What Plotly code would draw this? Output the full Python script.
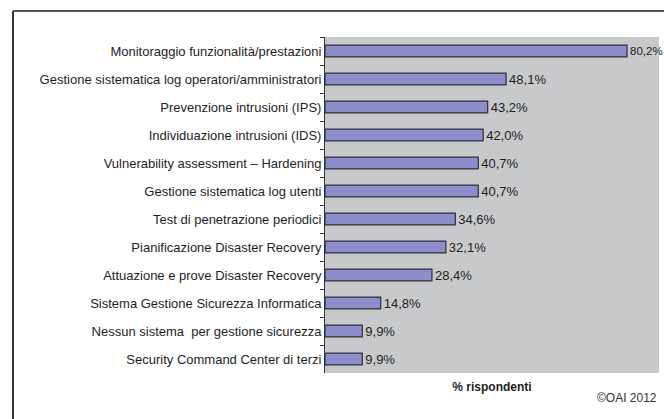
import plotly.graph_objects as go

categories = [
    "Monitoraggio funzionalità/prestazioni",
    "Gestione sistematica log operatori/amministratori",
    "Prevenzione intrusioni (IPS)",
    "Individuazione intrusioni (IDS)",
    "Vulnerability assessment – Hardening",
    "Gestione sistematica log utenti",
    "Test di penetrazione periodici",
    "Pianificazione Disaster Recovery",
    "Attuazione e prove Disaster Recovery",
    "Sistema Gestione Sicurezza Informatica",
    "Nessun sistema  per gestione sicurezza",
    "Security Command Center di terzi",
]
values = [80.2, 48.1, 43.2, 42.0, 40.7, 40.7, 34.6, 32.1, 28.4, 14.8, 9.9, 9.9]
value_labels = [f"{v:.1f}".replace(".", ",") + "%" for v in values]
# the longest bar's label sits at the right edge, so it is set a touch smaller
label_sizes = [11.5] + [13] * (len(values) - 1)

FONT = "Liberation Sans, Arial, sans-serif"
LEFT, RIGHT, TOP, BOTTOM = 325, 5, 37, 46
PLOT_W = 664 - LEFT - RIGHT
PLOT_H = 419 - TOP - BOTTOM

fig = go.Figure(
    go.Bar(
        x=values,
        y=categories,
        orientation="h",
        marker=dict(color="#8e8dcc", line=dict(color="#2e2e3a", width=1.2)),
        text=value_labels,
        textposition="outside",
        constraintext="none",
        cliponaxis=False,
        textfont=dict(family=FONT, size=label_sizes, color="#1e1e1e"),
        hoverinfo="skip",
    )
)

fig.update_layout(
    width=664,
    height=419,
    margin=dict(l=LEFT, r=RIGHT, t=TOP, b=BOTTOM),
    paper_bgcolor="white",
    plot_bgcolor="#c8c9cb",
    bargap=0.58,
    showlegend=False,
    font=dict(family=FONT, size=13, color="#1e1e1e"),
    xaxis=dict(
        range=[0, 88.7],
        showticklabels=False,
        showgrid=False,
        zeroline=False,
        ticks="",
        title=dict(
            text="<b>% rispondenti</b>",
            font=dict(family=FONT, size=12, color="#1e1e1e"),
            standoff=9,
        ),
    ),
    yaxis=dict(
        autorange="reversed",
        showgrid=False,
        showline=True,
        linecolor="#333333",
        linewidth=1,
        ticks="outside",
        tickson="boundaries",
        ticklen=4,
        tickcolor="#333333",
        tickfont=dict(family=FONT, size=13, color="#1e1e1e"),
    ),
    shapes=[
        # outer frame: top and left edges
        dict(type="line", xref="paper", yref="paper", x0=-(LEFT - 13) / PLOT_W, x1=1.02,
             y0=1 + 26 / PLOT_H, y1=1 + 26 / PLOT_H, line=dict(color="#555555", width=2)),
        dict(type="line", xref="paper", yref="paper",
             x0=-(LEFT - 13) / PLOT_W, x1=-(LEFT - 13) / PLOT_W,
             y0=1 + 26 / PLOT_H, y1=-BOTTOM / PLOT_H - 0.01,
             line=dict(color="#333333", width=2)),
    ],
    annotations=[
        dict(text="©OAI 2012", xref="paper", yref="paper", x=1.0, y=-25 / PLOT_H,
             xanchor="right", yanchor="middle", showarrow=False,
             font=dict(family=FONT, size=12, color="#333333")),
    ],
)

fig.write_html("out.html")
